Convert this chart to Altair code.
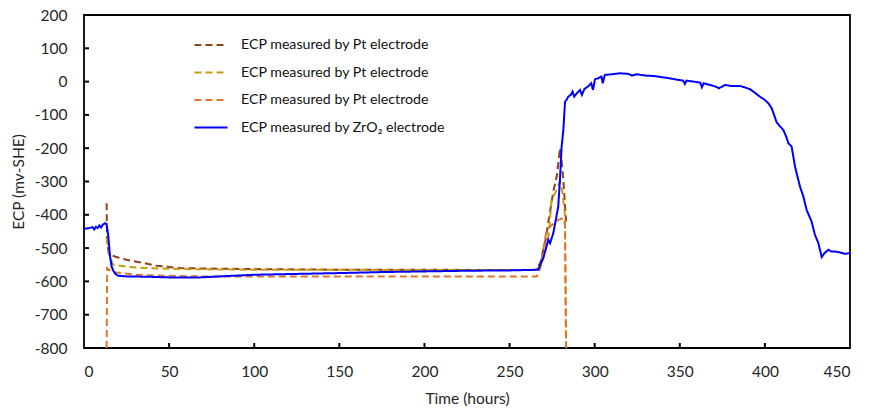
import altair as alt
import pandas as pd

# ---- data ----
blue_hours = [0, 3, 5, 6, 7, 8, 9, 10, 11, 12.5, 13.3, 14.3, 15.3, 16.2, 17.2, 18.5, 20, 25, 37, 50,
              68, 80, 100, 120, 150, 175, 200, 225, 250, 266.9, 269.8, 272.8, 273.8, 275.7, 277,
              278.6, 279.6, 280.6, 281.6, 282.6, 283.5, 284.5, 286, 287, 288, 289.5, 291.4, 292.5,
              294, 296, 298, 299, 300.2, 302, 304, 304.7, 306, 310, 315, 320, 322, 324.7, 330,
              334.4, 340, 344, 348, 352, 353, 354, 358, 362, 363, 364, 367.8, 371, 373, 376.6,
              380, 385.4, 388, 391.3, 394, 397, 400, 402, 404, 406.9, 408.5, 410.8, 412.5, 413.8,
              415.7, 417.7, 420.6, 422.6, 424.5, 427.4, 429.4, 431.4, 433.4, 435, 437.3, 439,
              441.2, 444, 447, 450]
blue_ecp = [-442, -440, -437, -444, -436, -440, -432, -438, -430, -425, -428, -465, -525, -555,
            -568, -578, -583, -585, -586, -588, -588, -585, -580, -578, -575, -572, -570, -568,
            -567, -565, -530, -475, -485, -455, -420, -375, -295, -195, -145, -60, -55, -45, -40,
            -30, -45, -35, -25, -40, -22, -15, -5, -25, 7, 10, 15, -5, 20, 22, 25, 23, 18, 22, 18,
            17, 13, 10, 6, 3, -7, 3, 0, -3, -17, -5, -10, -15, -20, -10, -13, -13, -17, -23, -33,
            -45, -55, -65, -80, -122, -132, -145, -165, -185, -195, -255, -315, -345, -385, -420,
            -460, -485, -527, -515, -505, -510, -510, -513, -517, -515]

pt1_hours = [13.3, 13.5, 14.5, 16.2, 20, 25, 35, 42.7, 56.4, 80, 100, 150, 200, 250, 265, 268,
             271, 273.8, 275.7, 277.7, 279.6, 280.6, 281.6, 282.6, 283.2]
pt1_ecp = [-365, -480, -515, -522, -528, -535, -545, -553, -560, -562, -563, -565, -565, -566,
           -566, -545, -480, -390, -330, -285, -200, -240, -295, -375, -420]

pt2_hours = [13.3, 15.3, 17.2, 25, 36.8, 56, 100, 150, 200, 265, 268, 271, 273, 274.7, 277.7,
             279.6, 281, 282.5, 283.2]
pt2_ecp = [-470, -530, -550, -556, -560, -563, -565, -565, -566, -566, -555, -510, -460, -355,
           -325, -300, -330, -400, -800]

pt3_hours = [13.3, 13.6, 16, 19.2, 30, 46.6, 70, 100, 150, 200, 250, 266, 268, 271.8, 275,
             278.6, 281.6, 282.6, 283.2]
pt3_ecp = [-800, -560, -570, -573, -580, -583, -585, -585, -585, -585, -585, -585, -560, -445,
           -430, -415, -410, -430, -800]

series_names = ["Pt1", "Pt2", "Pt3", "ZrO2"]
series_colors = ["#8F4418", "#C89B0E", "#DE7530", "#0000FF"]
series_dash = [[7, 4], [7, 4], [7, 4], [1, 0]]

x_ticks = [0, 50, 100, 150, 200, 250, 300, 350, 400, 450]
y_ticks = [-800, -700, -600, -500, -400, -300, -200, -100, 0, 100, 200]

rows = []
for name, hs, vs in [("Pt1", pt1_hours, pt1_ecp), ("Pt2", pt2_hours, pt2_ecp),
                     ("Pt3", pt3_hours, pt3_ecp), ("ZrO2", blue_hours, blue_ecp)]:
    for i, (h, v) in enumerate(zip(hs, vs)):
        rows.append({"series": name, "hours": h, "ecp": v, "order": i})
df = pd.DataFrame(rows)
pt_df = df[df["series"] != "ZrO2"]
blue_df = df[df["series"] == "ZrO2"]
xt_df = pd.DataFrame({"tick": x_ticks[1:-1]})
yt_df = pd.DataFrame({"tick": y_ticks[1:-1]})

FONT = "Lato"
W, H = 766, 333
TICK = 5

x_scale = alt.Scale(domain=[0, 450], nice=False)
y_scale = alt.Scale(domain=[-800, 200], nice=False)

legend = alt.Legend(
    orient="none", legendX=109, legendY=12, title=None,
    labelExpr="datum.label == 'ZrO2' ? 'ECP measured by ZrO\u2082 electrode' : 'ECP measured by Pt electrode'",
    labelFont=FONT, labelFontSize=14.2, labelColor="#111111", labelLimit=400,
    symbolType="stroke", symbolSize=1090, symbolStrokeWidth=2,
    rowPadding=1.5, labelOffset=12, padding=0,
)
color_enc = alt.Color("series:N", scale=alt.Scale(domain=series_names, range=series_colors), legend=legend)
dash_enc = alt.StrokeDash("series:N", scale=alt.Scale(domain=series_names, range=series_dash), legend=legend)

MINUS_FIX = "replace(datum.label, '\u2212', '-')"
x_axis = alt.Axis(values=x_ticks, ticks=False, domain=False, grid=False,
                  labelPadding=16, labelOverlap=False,
                  title="Time (hours)", titlePadding=12)
y_axis = alt.Axis(values=y_ticks, ticks=False, domain=False, grid=False,
                  labelPadding=17, labelExpr=MINUS_FIX, labelOverlap=False,
                  title="ECP (mv-SHE)", titlePadding=8)

dashed = alt.Chart(pt_df).mark_line(strokeWidth=2).encode(
    x=alt.X("hours:Q", scale=x_scale, axis=x_axis),
    y=alt.Y("ecp:Q", scale=y_scale, axis=y_axis),
    color=color_enc, strokeDash=dash_enc, order="order:Q",
)
blue = alt.Chart(blue_df).mark_line(strokeWidth=2).encode(
    x=alt.X("hours:Q", scale=x_scale, axis=None),
    y=alt.Y("ecp:Q", scale=y_scale, axis=None),
    color=color_enc, strokeDash=dash_enc, order="order:Q",
)
# inward-pointing tick marks on the bottom and left axes
x_tick_marks = alt.Chart(xt_df).mark_rule(color="black", strokeWidth=2).encode(
    x=alt.X("tick:Q", scale=x_scale, axis=None),
    y=alt.value(H), y2=alt.value(H - TICK),
)
y_tick_marks = alt.Chart(yt_df).mark_rule(color="black", strokeWidth=2).encode(
    y=alt.Y("tick:Q", scale=y_scale, axis=None),
    x=alt.value(0), x2=alt.value(TICK),
)

chart = alt.layer(dashed, blue, x_tick_marks, y_tick_marks).resolve_axis(
    x="independent", y="independent"
).properties(
    width=W, height=H, autosize=alt.AutoSizeParams(type="none"),
    padding={"left": 84, "top": 15, "right": 22, "bottom": 66},
).configure_view(
    stroke="black", strokeWidth=1.8
).configure_axis(
    labelFont=FONT, labelFontSize=15.5, labelColor="#262626",
    titleFont=FONT, titleFontSize=15.5, titleFontWeight="normal", titleColor="#262626",
)

chart.save("out.html", embed_options={"renderer": "svg", "actions": False})
